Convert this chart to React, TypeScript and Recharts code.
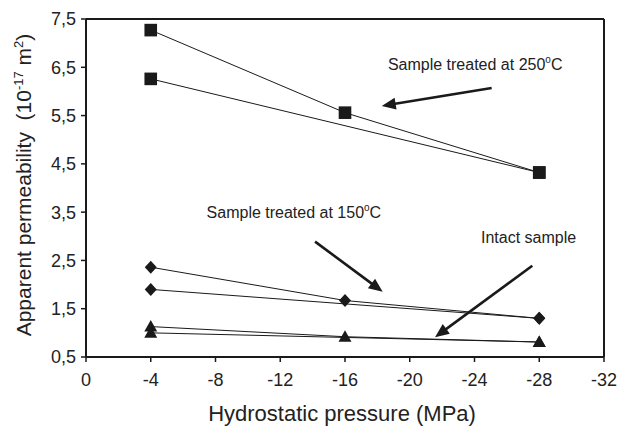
import { ScatterChart, Scatter, XAxis, YAxis, ReferenceLine, ReferenceDot, Label } from 'recharts';
import type { ReactElement } from 'react';

// pressures (MPa) for the loading path and the unloading path
const loadingPressure = [-4, -16, -28];
const unloadingPressure = [-28, -4];

// apparent permeability, 10^-17 m^2
const t250Loading = [7.27, 5.56, 4.32];
const t250Unloading = [4.32, 6.26];
const t150Loading = [2.36, 1.67, 1.3];
const t150Unloading = [1.3, 1.9];
const intactLoading = [1.13, 0.92, 0.81];
const intactUnloading = [0.81, 1.0];

const xTicks = [0, -4, -8, -12, -16, -20, -24, -28, -32];
const yTicks = [0.5, 1.5, 2.5, 3.5, 4.5, 5.5, 6.5, 7.5];

// annotations, in data coordinates
const arrows = [
  { from: { x: -25.06, y: 6.07 }, to: { x: -18.27, y: 5.7 } },
  { from: { x: -14.15, y: 2.89 }, to: { x: -18.33, y: 1.85 } },
  { from: { x: -27.57, y: 2.39 }, to: { x: -21.56, y: 0.91 } },
];
const notes = [
  { x: -18.65, y: 6.44, text: 'Sample treated at 250', deg: true },
  { x: -7.45, y: 3.37, text: 'Sample treated at 150', deg: true },
  { x: -24.4, y: 2.87, text: 'Intact sample', deg: false },
];

const INK = '#1a1a1a';

const pts = (xs: number[], ys: number[]) => xs.map((x, i) => ({ x, y: ys[i] }));

function Square(p: any): ReactElement {
  return <rect x={p.cx - 6.3} y={p.cy - 6.3} width={12.6} height={12.6} fill={INK} />;
}
function Diamond(p: any): ReactElement {
  const { cx, cy } = p;
  return <polygon points={`${cx},${cy - 6.5} ${cx + 6},${cy} ${cx},${cy + 6.5} ${cx - 6},${cy}`} fill={INK} />;
}
function Triangle(p: any): ReactElement {
  const { cx, cy } = p;
  return <polygon points={`${cx},${cy - 6.5} ${cx + 6.5},${cy + 5} ${cx - 6.5},${cy + 5}`} fill={INK} />;
}

function Arrow(p: any): ReactElement {
  const { x1, y1, x2, y2 } = p;
  const dx = x2 - x1;
  const dy = y2 - y1;
  const len = Math.hypot(dx, dy) || 1;
  const ux = dx / len;
  const uy = dy / len;
  const bx = x2 - ux * 14;
  const by = y2 - uy * 14;
  const nx = -uy * 6;
  const ny = ux * 6;
  return (
    <g>
      <line x1={x1} y1={y1} x2={bx + ux * 2} y2={by + uy * 2} stroke={INK} strokeWidth={2.6} />
      <polygon points={`${x2},${y2} ${bx + nx},${by + ny} ${bx - nx},${by - ny}`} fill={INK} />
    </g>
  );
}

function Note(text: string, deg: boolean) {
  return (p: any): ReactElement => (
    <text x={p.cx} y={p.cy} fontSize={16} fill="#222" textAnchor="start">
      {text}
      {deg && (
        <>
          <tspan dy={-7} fontSize={10}>o</tspan>
          <tspan dy={7}>C</tspan>
        </>
      )}
    </text>
  );
}

function XTitle(p: any): ReactElement {
  const vb = p.viewBox;
  return (
    <text x={vb.x + vb.width / 2 - 3} y={vb.y + 64} fontSize={22} fill="#222" textAnchor="middle">
      Hydrostatic pressure (MPa)
    </text>
  );
}

function YTitle(p: any): ReactElement {
  const vb = p.viewBox;
  const cy = vb.y + vb.height / 2 - 3;
  return (
    <text x={31} y={cy} fontSize={21} fill="#222" textAnchor="middle" transform={`rotate(-90, 31, ${cy})`}>
      Apparent permeability{'\u00a0\u00a0'}(10
      <tspan dy={-8} fontSize={13}>-17</tspan>
      <tspan dy={8}> m</tspan>
      <tspan dy={-8} fontSize={13}>2</tspan>
      <tspan dy={8}>)</tspan>
    </text>
  );
}

const lineStyle = { stroke: INK, strokeWidth: 1 };

export default function App(): ReactElement {
  return (
    <div style={{ position: 'absolute', left: 0, top: 0, background: '#fff' }}>
      <ScatterChart
        width={617}
        height={427}
        margin={{ top: 19, right: 13, left: 0, bottom: 0 }}
        style={{ fontFamily: '"Liberation Sans", Arial, sans-serif' }}
      >
        <XAxis
          type="number"
          dataKey="x"
          domain={[-32, 0]}
          reversed
          ticks={xTicks}
          interval={0}
          height={70}
          tickSize={5}
          tickMargin={11}
          axisLine={{ stroke: INK, strokeWidth: 2 }}
          tickLine={{ stroke: INK, strokeWidth: 1.5 }}
          tick={{ fill: '#222', fontSize: 18 }}
        >
          <Label content={XTitle} />
        </XAxis>
        <YAxis
          type="number"
          dataKey="y"
          domain={[0.5, 7.5]}
          ticks={yTicks}
          interval={0}
          width={86}
          tickSize={5}
          tickMargin={5}
          tickFormatter={(v: number) => v.toFixed(1).replace('.', ',')}
          axisLine={{ stroke: INK, strokeWidth: 2 }}
          tickLine={{ stroke: INK, strokeWidth: 1.5 }}
          tick={{ fill: '#222', fontSize: 18 }}
        >
          <Label content={YTitle} />
        </YAxis>
        <ReferenceLine y={7.5} stroke={INK} strokeWidth={2} />
        <ReferenceLine x={-32} stroke={INK} strokeWidth={2} />

        <Scatter data={pts(loadingPressure, t250Loading)} line={lineStyle} lineType="joint" shape={Square} isAnimationActive={false} />
        <Scatter data={pts(unloadingPressure, t250Unloading)} line={lineStyle} lineType="joint" shape={Square} isAnimationActive={false} />
        <Scatter data={pts(loadingPressure, t150Loading)} line={lineStyle} lineType="joint" shape={Diamond} isAnimationActive={false} />
        <Scatter data={pts(unloadingPressure, t150Unloading)} line={lineStyle} lineType="joint" shape={Diamond} isAnimationActive={false} />
        <Scatter data={pts(loadingPressure, intactLoading)} line={lineStyle} lineType="joint" shape={Triangle} isAnimationActive={false} />
        <Scatter data={pts(unloadingPressure, intactUnloading)} line={lineStyle} lineType="joint" shape={Triangle} isAnimationActive={false} />

        {arrows.map((a, i) => (
          <ReferenceLine key={`a${i}`} segment={[a.from, a.to]} shape={Arrow} />
        ))}
        {notes.map((n, i) => (
          <ReferenceDot key={`n${i}`} x={n.x} y={n.y} r={1} shape={Note(n.text, n.deg)} />
        ))}
      </ScatterChart>
    </div>
  );
}
